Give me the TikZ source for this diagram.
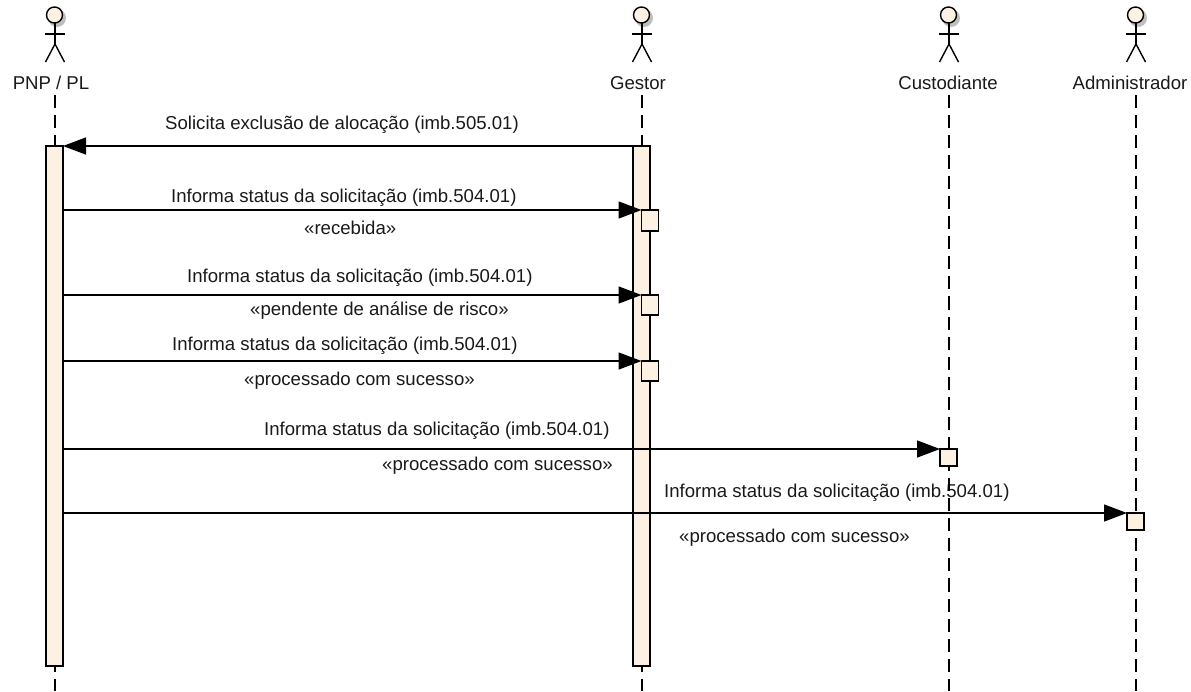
\documentclass[tikz,border=0pt]{standalone}
\usepackage{fontspec}
\setmainfont{Liberation Sans}
\usetikzlibrary{arrows.meta}
\definecolor{barfill}{RGB}{252,241,226}
\tikzset{
  msg/.style={draw=black,line width=1.4pt,-{Triangle[length=23pt,width=17pt]}},
  life/.style={draw=black,line width=1.4pt,dash pattern=on 13.14pt off 7pt},
  bar/.style={draw=black,line width=1.6pt,fill=barfill,rectangle,inner sep=0pt,outer sep=0pt,anchor=north west},
  txt/.style={font=\fontsize{18.6}{22}\selectfont,inner sep=0pt,text=black!90},
  limb/.style={draw=black,line width=1.4pt},
}
\newcommand{\actor}[1]{%
  \fill[black!25] (#1+2,18) circle (9);
  \draw[limb,fill=barfill] (#1-0.5,15) circle (8);
  \draw[limb] (#1,23) -- (#1,44) (#1-10,34) -- (#1+10,34);
  \draw[limb] (#1-9.5,62) -- (#1,44) -- (#1+9.5,62);
}
\begin{document}
\begin{tikzpicture}[x=1pt,y=-1pt]
\useasboundingbox (0,0) rectangle (1191,691);
% Actors
\actor{55}
\actor{642}
\actor{949}
\actor{1136}
\node[txt] (pnp)   at (51,83)   {PNP / PL};
\node[txt] (gestor) at (638,83)  {Gestor};
\node[txt] (cust)  at (948,83)  {Custodiante};
\node[txt] (admin) at (1130,83) {Administrador};
% Labels
\node[txt,anchor=west] (m1) at (165,125) {Solicita exclusão de alocação (imb.505.01)};
\node[txt,anchor=west] (m2) at (171,198) {Informa status da solicitação (imb.504.01)};
\node[txt,anchor=west] (s2) at (304,228) {«recebida»};
\node[txt,anchor=west] (m3) at (187,278) {Informa status da solicitação (imb.504.01)};
\node[txt,anchor=west] (s3) at (250,311) {«pendente de análise de risco»};
\node[txt,anchor=west] (m4) at (172,346) {Informa status da solicitação (imb.504.01)};
\node[txt,anchor=west] (s4) at (244,381) {«processado com sucesso»};
\node[txt,anchor=west] (m5) at (264,431) {Informa status da solicitação (imb.504.01)};
\node[txt,anchor=west] (s5) at (382,466) {«processado com sucesso»};
\node[txt,anchor=west] (m6) at (664,493) {Informa status da solicitação (imb.504.01)};
\node[txt,anchor=west] (s6) at (679,538) {«processado com sucesso»};
% Lifelines
\coordinate (pnptop) at (55,95);   \coordinate (pnpend) at (55,691);
\coordinate (gestop) at (642,95);  \coordinate (gesend) at (642,691);
\coordinate (custop) at (949,95);  \coordinate (cusend) at (949,691);
\coordinate (admtop) at (1136,95); \coordinate (admend) at (1136,691);
\draw[life] (pnptop) -- (pnpend);
\draw[life] (gestop) -- (gesend);
\draw[life] (custop) -- (cusend);
\draw[life] (admtop) -- (admend);
% Activations
\node[bar,minimum width=17pt,minimum height=520pt] (pnpbar) at (46,146) {};
\node[bar,minimum width=17pt,minimum height=520pt] (gesbar) at (633,146) {};
\node[bar,minimum width=17pt,minimum height=21pt] (r2) at (641.5,210) {};
\node[bar,minimum width=17pt,minimum height=20pt] (r3) at (641.5,295) {};
\node[bar,minimum width=17pt,minimum height=20pt] (r4) at (641.5,361) {};
\node[bar,minimum width=17pt,minimum height=17pt] (r5) at (940,449) {};
\node[bar,minimum width=17pt,minimum height=17pt] (r6) at (1127,513) {};
% Messages
\draw[msg] (gesbar.north west) -- (pnpbar.north east);
\draw[msg] (pnpbar.east |- r2.north) -- (r2.north west);
\draw[msg] (pnpbar.east |- r3.north) -- (r3.north west);
\draw[msg] (pnpbar.east |- r4.north) -- (r4.north west);
\draw[msg] (pnpbar.east |- r5.north) -- (r5.north west);
\draw[msg] (pnpbar.east |- r6.north) -- (r6.north west);
\end{tikzpicture}
\end{document}
